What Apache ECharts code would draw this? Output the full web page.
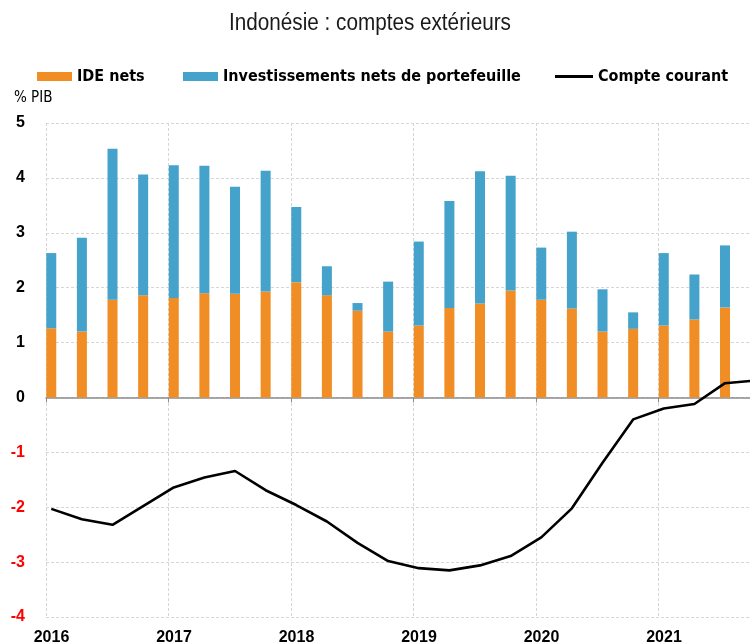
<!DOCTYPE html>
<html><head><meta charset="utf-8">
<script src="https://cdn.jsdelivr.net/npm/echarts@6/dist/echarts.min.js"></script>
<style>html,body{margin:0;padding:0;background:#fff}#c{width:750px;height:643px}</style>
</head><body><div id="c"></div>
<script>
const quarters = ['2016T1','2016T2','2016T3','2016T4','2017T1','2017T2','2017T3','2017T4',
  '2018T1','2018T2','2018T3','2018T4','2019T1','2019T2','2019T3','2019T4',
  '2020T1','2020T2','2020T3','2020T4','2021T1','2021T2','2021T3','2021T4'];
const ideNets = [1.26,1.20,1.78,1.86,1.81,1.90,1.89,1.93,2.10,1.86,1.58,1.20,1.31,1.63,1.71,1.95,1.78,1.62,1.20,1.25,1.31,1.42,1.64];
const portefeuille = [1.37,1.71,2.75,2.20,2.42,2.32,1.95,2.20,1.37,0.53,0.14,0.91,1.53,1.95,2.41,2.09,0.95,1.40,0.77,0.30,1.32,0.82,1.13];
const compteCourant = [-2.03,-2.22,-2.32,-1.98,-1.64,-1.46,-1.34,-1.69,-1.96,-2.26,-2.65,-2.98,-3.11,-3.15,-3.06,-2.89,-2.55,-2.02,-1.19,-0.40,-0.20,-0.12,0.26,0.31];
const yearMin = 2016, yearMax = 2022;
const titleText = 'Indonésie : comptes extérieurs';

const FONT = '"DejaVu Sans Condensed","Liberation Sans",sans-serif';
const NUMFONT = '"Liberation Sans",sans-serif';
// position of a quarter on the time axis (bar drawn just after the start of the quarter)
function qPos(q){ const y = +q.slice(0,4), n = +q.slice(5); return y + (n-1)/4 + 0.043; }
// value first, position second (so the stack is computed on the value dimension)
const barRows = arr => arr.map((v,i)=>[v, qPos(quarters[i])]);
const linePairs = arr => arr.map((v,i)=>[qPos(quarters[i]), v]);

const chart = echarts.init(document.getElementById('c'), null, {renderer:'canvas'});
const legendText = {fontFamily: FONT, fontWeight:'bold', fontSize:16, color:'#000', lineHeight:17};
chart.setOption({
  animation:false,
  graphic:[
    {type:'text', left:229, top:12, scaleX:0.9, originX:0,
     style:{text:titleText, font:'23px "Liberation Sans",sans-serif', fill:'#1a1a1a'}},
    {type:'text', left:14, top:91, style:{text:'% PIB', font:'15px '+FONT, fill:'#000'}}
  ],
  legend:[
    {data:['IDE nets'], left:32, top:63, icon:'rect', itemWidth:35, itemHeight:9, textStyle:legendText, selectedMode:false},
    {data:['Investissements nets de portefeuille'], left:178, top:63, icon:'rect', itemWidth:35, itemHeight:9, textStyle:legendText, selectedMode:false},
    {data:['Compte courant'], left:550, top:63, icon:'rect', itemWidth:38, itemHeight:3, textStyle:legendText, selectedMode:false}
  ],
  grid:{left:46, top:123, width:735, height:494, containLabel:false, outerBoundsMode:'none'},
  xAxis:[
    {type:'value', min:yearMin, max:yearMax, interval:1, position:'bottom',
     axisLine:{show:false, onZero:false}, axisTick:{show:false},
     splitLine:{show:true, lineStyle:{color:'#d6d6d6', type:[3,2], width:1}},
     axisLabel:{show:true, margin:13, padding:[0,0,0,11], showMaxLabel:false,
       fontFamily:NUMFONT, fontWeight:'bold', fontSize:16, color:'#000',
       formatter:v=>String(v)}},
    {type:'value', min:yearMin, max:yearMax, interval:1, position:'bottom',
     axisLine:{show:true, onZero:true, lineStyle:{color:'#8c8c8c', width:1.5}},
     axisTick:{show:true, length:5, lineStyle:{color:'#8c8c8c', width:1}},
     axisLabel:{show:false}, splitLine:{show:false}}
  ],
  yAxis:{type:'value', min:-4, max:5, interval:1,
    axisLine:{show:false}, axisTick:{show:false},
    splitLine:{show:true, lineStyle:{color:'#d6d6d6', type:[3,2], width:1}},
    axisLabel:{margin:21, fontFamily:NUMFONT, fontWeight:'bold', fontSize:16,
      color:v=> (Number(v)<0 ? '#ff0000' : '#000')}},
  series:[
    {name:'IDE nets', type:'bar', stack:'pos', xAxisIndex:0, barWidth:10,
     encode:{x:1, y:0}, itemStyle:{color:'#F08D25'}, data:barRows(ideNets)},
    {name:'Investissements nets de portefeuille', type:'bar', stack:'pos', xAxisIndex:0, barWidth:10,
     encode:{x:1, y:0}, itemStyle:{color:'#45A2CB'}, data:barRows(portefeuille)},
    {name:'Compte courant', type:'line', xAxisIndex:0, symbol:'none', z:5,
     itemStyle:{color:'#000'}, lineStyle:{color:'#000', width:2.6}, data:linePairs(compteCourant)}
  ]
});
</script></body></html>
